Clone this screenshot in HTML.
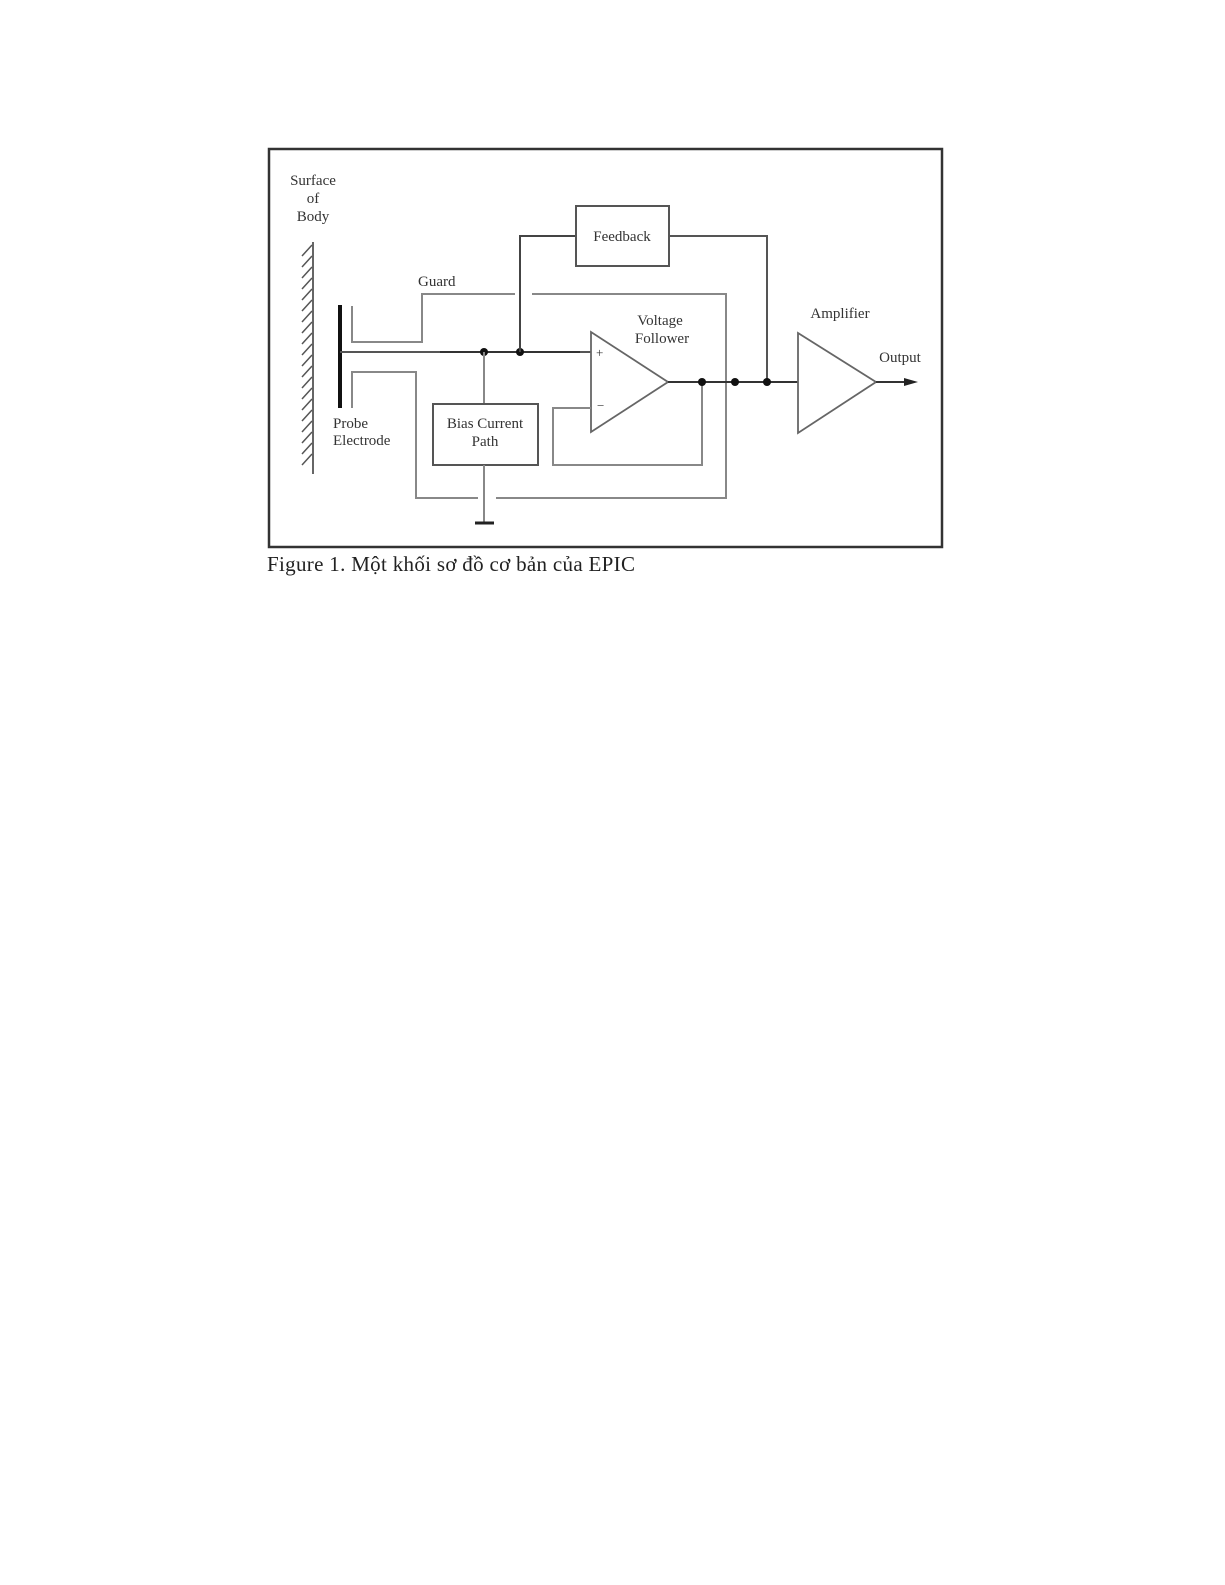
<!DOCTYPE html>
<html><head><meta charset="utf-8"><style>
html,body{margin:0;padding:0;background:#fff;}
svg{display:block}
text{font-family:"Liberation Serif",serif;fill:#333;}
</style></head><body>
<svg width="1225" height="1585" viewBox="0 0 1225 1585">
<rect x="269" y="149" width="673" height="398" fill="#fff" stroke="#333" stroke-width="2.5"/>
<text x="313" y="185" font-size="15" text-anchor="middle">Surface</text>
<text x="313" y="203" font-size="15" text-anchor="middle">of</text>
<text x="313" y="221" font-size="15" text-anchor="middle">Body</text>
<line x1="313" y1="242" x2="313" y2="474" stroke="#666" stroke-width="2"/>
<g stroke="#555" stroke-width="1.5">
<line x1="312" y1="245" x2="302" y2="256"/><line x1="312" y1="256" x2="302" y2="267"/>
<line x1="312" y1="267" x2="302" y2="278"/><line x1="312" y1="278" x2="302" y2="289"/>
<line x1="312" y1="289" x2="302" y2="300"/><line x1="312" y1="300" x2="302" y2="311"/>
<line x1="312" y1="311" x2="302" y2="322"/><line x1="312" y1="322" x2="302" y2="333"/>
<line x1="312" y1="333" x2="302" y2="344"/><line x1="312" y1="344" x2="302" y2="355"/>
<line x1="312" y1="355" x2="302" y2="366"/><line x1="312" y1="366" x2="302" y2="377"/>
<line x1="312" y1="377" x2="302" y2="388"/><line x1="312" y1="388" x2="302" y2="399"/>
<line x1="312" y1="399" x2="302" y2="410"/><line x1="312" y1="410" x2="302" y2="421"/>
<line x1="312" y1="421" x2="302" y2="432"/><line x1="312" y1="432" x2="302" y2="443"/>
<line x1="312" y1="443" x2="302" y2="454"/><line x1="312" y1="454" x2="302" y2="465"/>
</g>
<line x1="340" y1="305" x2="340" y2="408" stroke="#111" stroke-width="4"/>
<text x="333" y="428" font-size="15">Probe</text>
<text x="333" y="445" font-size="15">Electrode</text>
<g fill="none" stroke="#888" stroke-width="2">
<polyline points="352,306 352,342 422,342 422,294 515,294"/>
<polyline points="532,294 726,294 726,498 496,498"/>
<polyline points="352,408 352,372 416,372 416,498 478,498"/>
</g>
<text x="418" y="286" font-size="15">Guard</text>
<line x1="340" y1="352" x2="591" y2="352" stroke="#555" stroke-width="2"/>
<line x1="440" y1="352" x2="580" y2="352" stroke="#333" stroke-width="2"/>
<circle cx="484" cy="352" r="4" fill="#111"/>
<circle cx="520" cy="352" r="4" fill="#111"/>
<line x1="484" y1="352" x2="484" y2="404" stroke="#888" stroke-width="2"/>
<rect x="433" y="404" width="105" height="61" fill="#fff" stroke="#555" stroke-width="2"/>
<text x="485" y="428" font-size="15" text-anchor="middle">Bias Current</text>
<text x="485" y="446" font-size="15" text-anchor="middle">Path</text>
<line x1="484" y1="465" x2="484" y2="523" stroke="#888" stroke-width="2"/>
<line x1="475" y1="523" x2="494" y2="523" stroke="#222" stroke-width="3"/>
<polyline points="520,352 520,236 576,236" fill="none" stroke="#444" stroke-width="2"/>
<rect x="576" y="206" width="93" height="60" fill="#fff" stroke="#555" stroke-width="2"/>
<text x="622" y="241" font-size="15" text-anchor="middle">Feedback</text>
<polyline points="669,236 767,236 767,382" fill="none" stroke="#555" stroke-width="2"/>
<polygon points="591,332 591,432 668,382" fill="#fff" stroke="#666" stroke-width="1.8"/>
<text x="596" y="357" font-size="13">+</text>
<text x="597" y="410" font-size="13">−</text>
<polyline points="591,408 553,408 553,465 702,465 702,382" fill="none" stroke="#888" stroke-width="2"/>
<text x="660" y="325" font-size="15" text-anchor="middle">Voltage</text>
<text x="662" y="343" font-size="15" text-anchor="middle">Follower</text>
<line x1="668" y1="382" x2="798" y2="382" stroke="#333" stroke-width="2"/>
<circle cx="702" cy="382" r="4" fill="#111"/>
<circle cx="735" cy="382" r="4" fill="#111"/>
<circle cx="767" cy="382" r="4" fill="#111"/>
<polygon points="798,333 798,433 876,382" fill="#fff" stroke="#666" stroke-width="1.8"/>
<text x="840" y="318" font-size="15" text-anchor="middle">Amplifier</text>
<line x1="876" y1="382" x2="910" y2="382" stroke="#333" stroke-width="2"/>
<polygon points="918,382 904,378 904,386" fill="#222"/>
<text x="900" y="362" font-size="15" text-anchor="middle">Output</text>
<text x="267" y="571" font-size="21" textLength="368" style="fill:#222">Figure 1. Một khối sơ đồ cơ bản của EPIC</text>
</svg>
</body></html>
